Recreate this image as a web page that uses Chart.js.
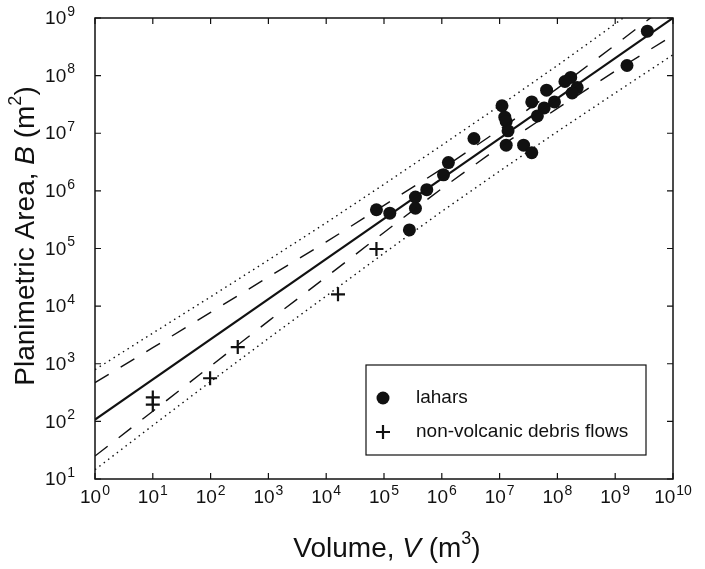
<!DOCTYPE html>
<html>
<head>
<meta charset="utf-8">
<script src="https://cdn.jsdelivr.net/npm/chart.js@4.4.0/dist/chart.umd.min.js"></script>
<style>
  html, body { margin: 0; padding: 0; background: #fff; }
</style>
</head>
<body>
<canvas id="chart" width="705" height="569"></canvas>
<script>
// decade exponents used for the tick labels
const volumeDecades = [0, 1, 2, 3, 4, 5, 6, 7, 8, 9, 10];
const areaDecades = [1, 2, 3, 4, 5, 6, 7, 8, 9];

// lahars (volume m3, planimetric area m2)
const laharV = [3.6e9, 1.6e9, 1.7e8, 1.35e8, 2.2e8, 1.8e8, 6.5e7, 3.6e7, 8.9e7, 5.9e7,
  4.5e7, 1.1e7, 1.23e7, 1.3e7, 1.4e7, 1.3e7, 2.6e7, 3.6e7, 3.6e6, 1.3e6,
  1.07e6, 5.5e5, 3.5e5, 3.5e5, 1.26e5, 7.4e4, 2.75e5];
const laharB = [5.9e8, 1.5e8, 9.3e7, 7.9e7, 6.2e7, 5.0e7, 5.6e7, 3.5e7, 3.5e7, 2.75e7,
  2.0e7, 3.0e7, 1.9e7, 1.6e7, 1.1e7, 6.2e6, 6.2e6, 4.6e6, 8.1e6, 3.1e6,
  1.9e6, 1.05e6, 7.8e5, 5.0e5, 4.1e5, 4.7e5, 2.1e5];

// non-volcanic debris flows
const debrisV = [10, 10, 98, 2.95e2, 1.6e4, 7.4e4];
const debrisB = [2.6e2, 1.95e2, 5.6e2, 1.95e3, 1.6e4, 9.8e4];

// regression line and bands, read at each decade of volume
const fitV = [1, 1e10];
const fitB = [1.07e2, 1.0e9];
const curveV = [1e0, 1e1, 1e2, 1e3, 1e4, 1e5, 1e6, 1e7, 1e8, 1e9, 1e10];
const dashedUpperB = [4.7e2, 1.9e3, 7.8e3, 3.2e4, 1.3e5, 5.6e5, 2.4e6, 1.15e7, 6.0e7, 3.4e8, 2.0e9];
const dashedLowerB = [2.5e1, 1.5e2, 9.1e2, 5.5e3, 3.2e4, 1.9e5, 1.1e6, 5.8e6, 2.7e7, 1.2e8, 5.0e8];
const dottedUpperB = [7.9e2, 3.4e3, 1.45e4, 6.3e4, 2.8e5, 1.3e6, 6.2e6, 3.0e7, 1.5e8, 7.9e8, 4.4e9];
const dottedLowerB = [1.45e1, 8.5e1, 4.9e2, 2.75e3, 1.5e4, 8.3e4, 4.4e5, 2.2e6, 1.07e7, 5.0e7, 2.3e8];

const FONT = '"Liberation Sans", Arial, Helvetica, sans-serif';
const INK = '#111';

function pts(xs, ys) {
  return xs.map((v, i) => ({ x: v, y: ys[i] }));
}

function lineSet(xs, ys, width, dash) {
  return {
    data: pts(xs, ys),
    showLine: true,
    borderColor: INK,
    borderWidth: width,
    borderDash: dash,
    pointRadius: 0,
    fill: false,
    tension: 0
  };
}

// "10" with a raised exponent
function drawPow(ctx, x, y, exp, align) {
  ctx.font = '19px ' + FONT;
  const wb = ctx.measureText('10').width;
  ctx.font = '14px ' + FONT;
  const ws = ctx.measureText(String(exp)).width;
  const total = wb + ws + 1;
  let start = align === 'right' ? x - total : x - total / 2;
  ctx.textAlign = 'left';
  ctx.textBaseline = 'middle';
  ctx.font = '19px ' + FONT;
  ctx.fillText('10', start, y);
  ctx.font = '14px ' + FONT;
  ctx.fillText(String(exp), start + wb + 1, y - 7);
}

// text made of parts, some italic or superscript
function drawRich(ctx, parts, cx, cy, size) {
  const fontOf = p => (p.italic ? 'italic ' : '') + (p.sup ? Math.round(size * 0.65) : size) + 'px ' + FONT;
  let total = 0;
  parts.forEach(p => { ctx.font = fontOf(p); p.w = ctx.measureText(p.t).width; total += p.w; });
  let x = cx - total / 2;
  ctx.textAlign = 'left';
  ctx.textBaseline = 'middle';
  parts.forEach(p => {
    ctx.font = fontOf(p);
    ctx.fillText(p.t, x, p.sup ? cy - size * 0.36 : cy);
    x += p.w;
  });
}

function drawCross(ctx, x, y, r) {
  ctx.beginPath();
  ctx.moveTo(x - r, y); ctx.lineTo(x + r, y);
  ctx.moveTo(x, y - r); ctx.lineTo(x, y + r);
  ctx.stroke();
}

const framePlugin = {
  id: 'frame',
  afterDraw(chart) {
    const { ctx, chartArea: a, scales: { x, y } } = chart;
    ctx.save();
    ctx.strokeStyle = INK;
    ctx.fillStyle = INK;
    ctx.lineWidth = 1.5;
    ctx.strokeRect(a.left, a.top, a.right - a.left, a.bottom - a.top);

    // inward ticks on all four sides
    ctx.lineWidth = 1.2;
    ctx.beginPath();
    volumeDecades.forEach(e => {
      const px = x.getPixelForValue(Math.pow(10, e));
      ctx.moveTo(px, a.bottom); ctx.lineTo(px, a.bottom - 6);
      ctx.moveTo(px, a.top); ctx.lineTo(px, a.top + 6);
    });
    areaDecades.forEach(e => {
      const py = y.getPixelForValue(Math.pow(10, e));
      ctx.moveTo(a.left, py); ctx.lineTo(a.left + 6, py);
      ctx.moveTo(a.right, py); ctx.lineTo(a.right - 6, py);
    });
    ctx.stroke();

    volumeDecades.forEach(e => drawPow(ctx, x.getPixelForValue(Math.pow(10, e)), a.bottom + 19, e, 'center'));
    areaDecades.forEach(e => drawPow(ctx, a.left - 20, y.getPixelForValue(Math.pow(10, e)) + 1, e, 'right'));

    // axis titles
    drawRich(ctx, [{ t: 'Volume, ' }, { t: 'V', italic: true }, { t: ' (m' }, { t: '3', sup: true }, { t: ')' }], 387, 549, 28);
    ctx.save();
    ctx.translate(26, 236);
    ctx.rotate(-Math.PI / 2);
    drawRich(ctx, [{ t: 'Planimetric Area, ' }, { t: 'B', italic: true }, { t: ' (m' }, { t: '2', sup: true }, { t: ')' }], 0, 0, 28);
    ctx.restore();

    // legend box
    ctx.fillStyle = '#fff';
    ctx.fillRect(366, 365, 280, 90);
    ctx.fillStyle = INK;
    ctx.lineWidth = 1.2;
    ctx.strokeRect(366, 365, 280, 90);
    ctx.beginPath();
    ctx.arc(383, 398, 6.5, 0, Math.PI * 2);
    ctx.fill();
    ctx.lineWidth = 2.2;
    drawCross(ctx, 383, 432, 7);
    ctx.font = '19px ' + FONT;
    ctx.textAlign = 'left';
    ctx.textBaseline = 'middle';
    ctx.fillText('lahars', 416, 398);
    ctx.fillText('non-volcanic debris flows', 416, 432);
    ctx.restore();
  }
};

const chart = new Chart(document.getElementById('chart').getContext('2d'), {
  type: 'scatter',
  data: {
    datasets: [
      lineSet(curveV, dottedUpperB, 1.4, [1.5, 4]),
      lineSet(curveV, dottedLowerB, 1.4, [1.5, 4]),
      lineSet(curveV, dashedUpperB, 1.4, [16, 14]),
      lineSet(curveV, dashedLowerB, 1.4, [16, 14]),
      lineSet(fitV, fitB, 2.2, []),
      {
        label: 'lahars',
        data: pts(laharV, laharB),
        pointStyle: 'circle',
        pointRadius: 6.5,
        backgroundColor: INK,
        borderColor: INK,
        borderWidth: 0
      },
      {
        label: 'non-volcanic debris flows',
        data: pts(debrisV, debrisB),
        pointStyle: 'cross',
        pointRadius: 7,
        borderColor: INK,
        borderWidth: 2.2
      }
    ]
  },
  options: {
    responsive: false,
    animation: false,
    layout: { padding: { left: 95, right: 32, top: 18, bottom: 90 } },
    plugins: { legend: { display: false }, tooltip: { enabled: false } },
    scales: {
      x: { type: 'logarithmic', min: 1, max: 1e10, display: false },
      y: { type: 'logarithmic', min: 10, max: 1e9, display: false }
    }
  },
  plugins: [framePlugin]
});
</script>
</body>
</html>
